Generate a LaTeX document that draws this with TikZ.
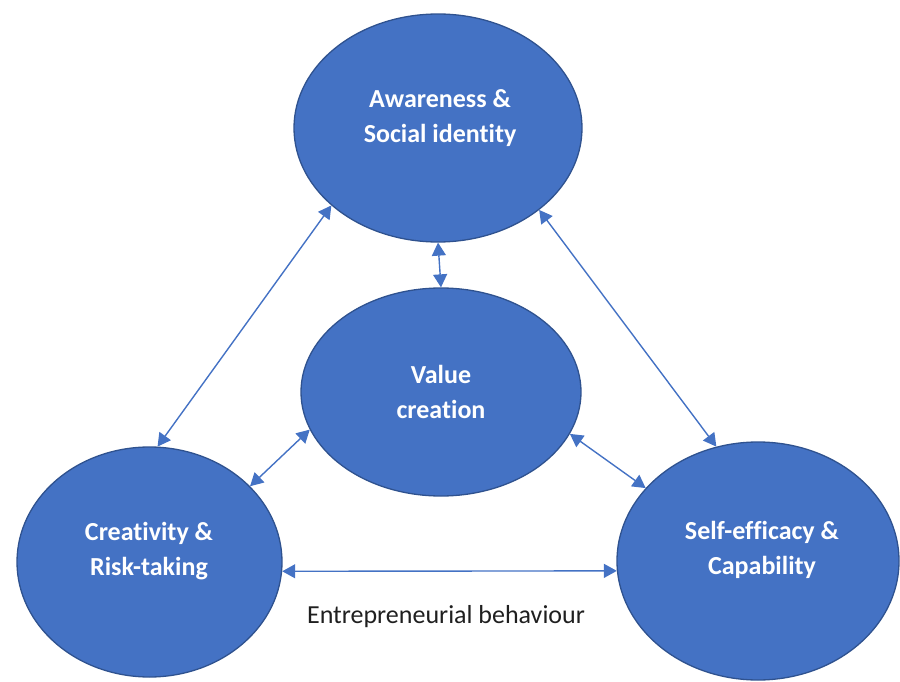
\documentclass[tikz,border=0pt]{standalone}
\usepackage{fontspec}
\setmainfont{Carlito}[Ligatures=NoCommon]
\usetikzlibrary{shapes.geometric,arrows.meta}
\definecolor{fillblue}{HTML}{4472C4}
\definecolor{edgeblue}{HTML}{2F528F}
\definecolor{linkblue}{HTML}{4472C4}
\tikzset{
  bubble/.style={ellipse, draw=edgeblue, line width=1.3pt, fill=fillblue, inner sep=0pt},
  bubbletext/.style={text=white, font=\fontsize{26}{35}\selectfont\bfseries, align=center},
  link/.style={draw=linkblue, line width=1.4pt, {Triangle[length=13pt,width=14pt]}-{Triangle[length=13pt,width=14pt]}},
  caption/.style={font=\fontsize{26}{31}\selectfont, text=black!88}
}
\begin{document}
\begin{tikzpicture}[x=1pt, y=-1pt]
  \useasboundingbox (0,0) rectangle (900,682);

  % four bubbles
  \node[bubble, minimum width=288pt, minimum height=228pt] (top) at (438,128) {};
  \node[bubble, minimum width=280pt, minimum height=208pt] (mid) at (441,392) {};
  \node[bubble, minimum width=265pt, minimum height=230pt] (left) at (149.5,562) {};
  \node[bubble, minimum width=282pt, minimum height=238pt] (right) at (758,561) {};

  % their labels
  \node[bubbletext] (toptext) at (440,118) {Awareness \&\\Social identity};
  \node[bubbletext] (midtext) at (441,392) {Value\\creation};
  \node[bubbletext] (lefttext) at (149,551) {Creativity \&\\Risk-taking};
  \node[bubbletext] (righttext) at (762,550) {Self-efficacy \&\\Capability};

  % two-way links
  \draw[link] (top.south) -- (mid.north);
  \draw[link] (top.216) -- (left.86);
  \draw[link] (top.321) -- (right.110);
  \draw[link] (mid.196) -- (left.37);
  \draw[link] (mid.342) -- (right.147);
  \draw[link] (left.-4.5) -- (right.184.5);

  \node[caption, anchor=base] (behaviour) at (446,623) {Entrepreneurial behaviour};
\end{tikzpicture}
\end{document}
